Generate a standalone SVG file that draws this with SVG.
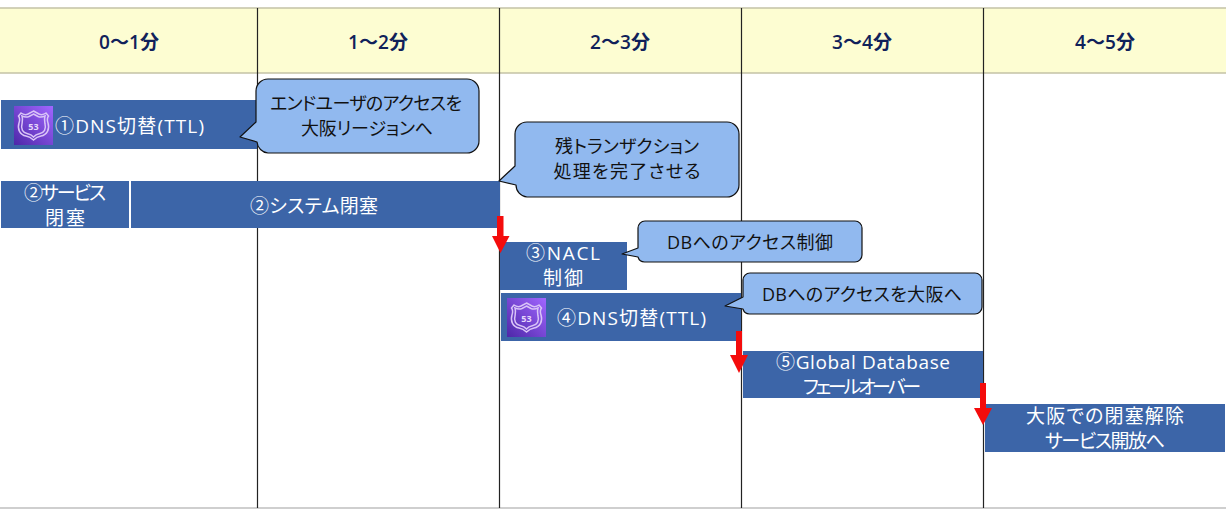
<svg xmlns="http://www.w3.org/2000/svg" width="1229" height="513" viewBox="0 0 1229 513">
<style>
text{font-family:"Open Sans","Noto Sans CJK JP",sans-serif;font-size:18px;text-anchor:middle;font-feature-settings:"palt"}
.h{font-weight:600;font-size:19px;fill:#10215a}
.w{fill:#fff;font-size:19px}
.d{fill:#111}
.bar{fill:#3c65a8}
.call{fill:#91b9ef;stroke:#111;stroke-width:1.200;stroke-linejoin:round}
.v{stroke:#222;stroke-width:1.200;fill:none}
.red{fill:#f40c0c}
.sh{fill:none;stroke:#d9c4f7;stroke-width:1.500}
</style>
<defs>
<linearGradient id="ic" x1="0" y1="1" x2="1" y2="0"><stop offset="0" stop-color="#4d27a8"/><stop offset="1" stop-color="#a166ff"/></linearGradient>
<g id="r53"><rect width="39" height="39" fill="url(#ic)"/>
<path class="sh" d="M19.500 5L25 8C27 9 30 8.500 32 7L34.500 10C33 12 33 14 34 17C36 23 33 29 27 30C24 30.500 21.500 32 19.500 34C17.500 32 15 30.500 12 30C6 29 3 23 5 17C6 14 6 12 4.500 10L7 7C9 8.500 12 9 14 8Z"/>
<path class="sh" stroke-width="1" d="M19.500 8L24 10.500C26.500 11.500 29 11 31 10C30 13 30.500 15 31 18C32.500 23 30 27 26 27.500C23.500 28 21 29 19.500 31C18 29 15.500 28 13 27.500C9 27 6.500 23 8 18C8.500 15 9 13 8 10C10 11 12.500 11.500 15 10.500Z"/>
<text x="19.500" y="24" style="font-size:9px;font-weight:700;fill:#e6d8fb">53</text></g>
</defs>
<rect width="1229" height="513" fill="#fff"/>
<g id="header">
<rect x="0" y="8" width="1226" height="65" fill="#fdfdd2"/>
<path d="M0 8H1226M0 73H1226" stroke="#c3c2a6" stroke-width="1.500" fill="none"/>
<path d="M0 508H1226" stroke="#bfbfbf" stroke-width="1.500" fill="none"/>
<text class="h" x="129" y="49" textLength="60">0～1分</text>
<text class="h" x="378" y="49" textLength="60">1～2分</text>
<text class="h" x="620" y="49" textLength="60">2～3分</text>
<text class="h" x="862" y="49" textLength="60">3～4分</text>
<text class="h" x="1105" y="49" textLength="60">4～5分</text>
</g>
<g id="grid"><path class="v" d="M257.500 8V508M499.500 8V508M741.500 8V508M983.500 8V508"/></g>
<g id="node-dns1">
<rect class="bar" x="1" y="100" width="256" height="49"/>
<use href="#r53" x="14" y="106"/>
<text class="w" x="129.500" y="133" textLength="149">①DNS切替(TTL)</text>
</g>
<g id="callout-1">
<path class="call" d="M268 79H467A12 12 0 0 1 479 91V141A12 12 0 0 1 467 153H268A12 12 0 0 1 257 142L240 137L256 122V91A12 12 0 0 1 268 79Z"/>
<text class="d" x="366" y="110" textLength="192">エンドユーザのアクセスを</text>
<text class="d" x="367" y="135" textLength="132">大阪リージョンへ</text>
</g>
<g id="node-service">
<rect class="bar" x="1" y="181" width="128" height="47"/>
<text class="w" x="65" y="200" textLength="82">②サービス</text>
<text class="w" x="65" y="225" textLength="40">閉塞</text>
</g>
<g id="node-system">
<rect class="bar" x="131" y="181" width="369" height="47"/>
<text class="w" x="314" y="213" textLength="128">②システム閉塞</text>
</g>
<g id="callout-2">
<path class="call" d="M527 122H727A12 12 0 0 1 739 134V185A12 12 0 0 1 727 197H527A12 12 0 0 1 516 185L499 181L515 166V134A12 12 0 0 1 527 122Z"/>
<text class="d" x="627" y="153" textLength="144">残トランザクション</text>
<text class="d" x="627" y="178" textLength="147">処理を完了させる</text>
</g>
<g id="node-nacl">
<rect class="bar" x="500" y="242" width="127" height="48"/>
<text class="w" x="563" y="260" textLength="74">③NACL</text>
<text class="w" x="563" y="285" textLength="40">制御</text>
</g>
<g id="callout-3">
<path class="call" d="M645 221H855A7 7 0 0 1 862 228V255A7 7 0 0 1 855 262H645A7 7 0 0 1 638 257L622 254L638 248V228A7 7 0 0 1 645 221Z"/>
<text class="d" x="750" y="249" textLength="166">DBへのアクセス制御</text>
</g>
<g id="node-dns4">
<rect class="bar" x="501" y="293" width="240" height="48"/>
<use href="#r53" x="507" y="298"/>
<text class="w" x="631.500" y="325" textLength="149">④DNS切替(TTL)</text>
</g>
<g id="callout-4">
<path class="call" d="M750 273H975A7 7 0 0 1 982 280V307A7 7 0 0 1 975 314H750A7 7 0 0 1 743 309L725 306L743 297V280A7 7 0 0 1 750 273Z"/>
<text class="d" x="862" y="301" textLength="200">DBへのアクセスを大阪へ</text>
</g>
<g id="node-failover">
<rect class="bar" x="743" y="351" width="240" height="47"/>
<text class="w" x="863" y="369" textLength="174">⑤Global Database</text>
<text class="w" x="862" y="394" textLength="118">フェールオーバー</text>
</g>
<g id="node-open">
<rect class="bar" x="985" y="404" width="240" height="48"/>
<text class="w" x="1105" y="423" textLength="158">大阪での閉塞解除</text>
<text class="w" x="1105" y="448" textLength="120">サービス開放へ</text>
</g>
<g id="connectors">
<path class="red" d="M497 216H503.500V236H509.500L500.500 253L492 236H497Z"/>
<path class="red" d="M736 331H742V355H748L739 373L730 355H736Z"/>
<path class="red" d="M980 383H986V408H992L983 425L974 408H980Z"/>
</g>
</svg>
